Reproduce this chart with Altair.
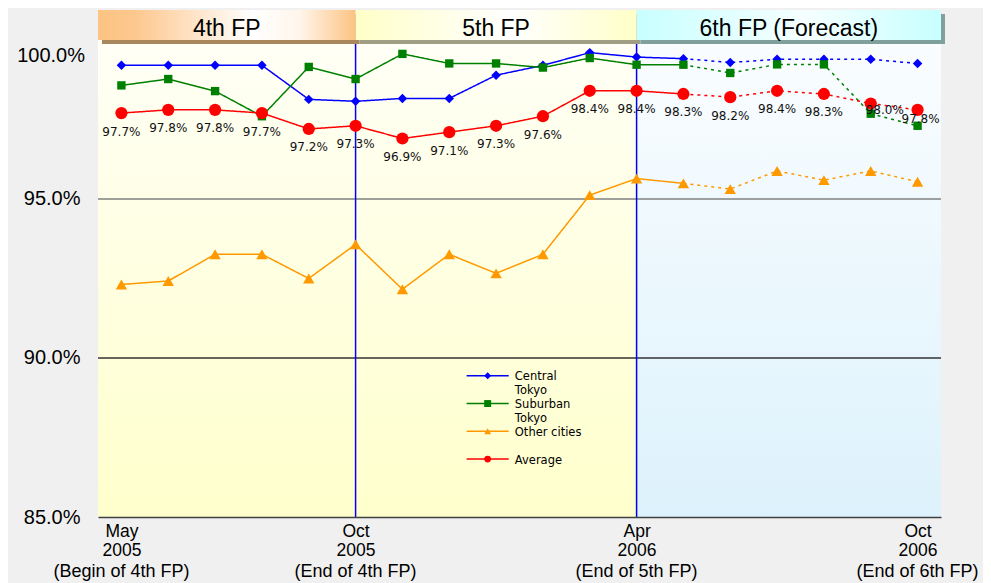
import altair as alt
import pandas as pd

# ---------------- data ----------------
month_labels = ["May 2005", "Jun 2005", "Jul 2005", "Aug 2005", "Sep 2005", "Oct 2005",
                "Nov 2005", "Dec 2005", "Jan 2006", "Feb 2006", "Mar 2006", "Apr 2006",
                "May 2006", "Jun 2006", "Jul 2006", "Aug 2006", "Sep 2006", "Oct 2006"]
series_names = ["Central Tokyo", "Suburban Tokyo", "Other cities", "Average"]
central = [99.20, 99.20, 99.20, 99.20, 98.13, 98.07, 98.16, 98.16, 98.89, 99.20,
           99.60, 99.46, 99.41, 99.29, 99.39, 99.39, 99.39, 99.26]
suburban = [98.57, 98.77, 98.39, 97.60, 99.15, 98.77, 99.56, 99.26, 99.26, 99.13,
            99.43, 99.22, 99.22, 98.96, 99.23, 99.23, 97.68, 97.30]
other = [92.31, 92.42, 93.26, 93.26, 92.50, 93.57, 92.16, 93.26, 92.66, 93.26,
         95.12, 95.64, 95.49, 95.31, 95.88, 95.59, 95.88, 95.54]
average = [97.7, 97.8, 97.8, 97.7, 97.2, 97.3, 96.9, 97.1, 97.3, 97.6,
           98.4, 98.4, 98.3, 98.2, 98.4, 98.3, 98.0, 97.8]
first_forecast_idx = 12  # dotted lines from May 2006 on

legend_line1 = ["Central", "Suburban", "Other cities", "Average"]
legend_line2 = ["Tokyo", "Tokyo", "", ""]

period_names = ["4th FP", "5th FP", "6th FP (Forecast)"]
period_start = [-0.5, 5, 11]
period_end = [5, 11, 17.5]

tick_idx = [0, 5, 11, 17]
tick_month = ["May", "Oct", "Apr", "Oct"]
tick_year = ["2005", "2005", "2006", "2006"]
tick_note = ["(Begin of 4th FP)", "(End of 4th FP)", "(End of 5th FP)", "(End of 6th FP)"]

y_axis_ticks = [85, 90, 95]
y_top_tick = [100]
y_grid = [90, 95]

# ---------------- styles ----------------
series_colors = ["#0000ff", "#008000", "#ff9900", "#ff0000"]
series_shapes = ["diamond", "square", "triangle-up", "circle"]
series_sizes = [90, 70, 130, 150]
legend_sizes = [50, 45, 80, 75]
grid_colors = ["#333333", "#808080"]
shadow_colors = ["#a8885c", "#a09e84", "#80a09e"]
header_grads = [
    [(0, "#fcc382"), (0.15, "#fdc890"), (0.6, "#ffffff"), (0.78, "#fff6ec"), (1, "#fcc382")],
    [(0, "#ffffc8"), (0.55, "#ffffff"), (1, "#ffffc8")],
    [(0, "#c8ffff"), (0.55, "#f6ffff"), (1, "#c8ffff")],
]

W, H = 843, 507
Y_MAX = 100.94
HEADER_BOTTOM = 100.0
HEADER_TEXT_Y = 100.33
# legend placement (in the chart's own x / y units)
LEG_X0, LEG_XM, LEG_X1, LEG_XT = 7.37, 7.82, 8.27, 8.40
LEG_Y0, LEG_STEP = 89.44, 0.873

xs = alt.Scale(domain=[-0.5, 17.5], nice=False, zero=False)
ys = alt.Scale(domain=[85, Y_MAX], nice=False, zero=False)
color_scale = alt.Scale(domain=series_names, range=series_colors)


def grad(stops, horizontal):
    return alt.LinearGradient(
        gradient="linear",
        stops=[alt.GradientStop(color=c, offset=o) for o, c in stops],
        x1=0, y1=0, x2=1 if horizontal else 0, y2=0 if horizontal else 1)


# ---------------- tables ----------------
line_rows, point_rows = [], []
for s, vals in zip(series_names, [central, suburban, other, average]):
    for i, v in enumerate(vals):
        point_rows.append(dict(series=s, idx=i, month=month_labels[i], value=v))
        if i <= first_forecast_idx:
            line_rows.append(dict(series=s, idx=i, value=v, seg="actual"))
        if i >= first_forecast_idx:
            line_rows.append(dict(series=s, idx=i, value=v, seg="forecast"))
lines_df = pd.DataFrame(line_rows)
points_df = pd.DataFrame(point_rows)

periods_df = pd.DataFrame({"period": period_names, "x0": period_start, "x1": period_end,
                           "shadow": shadow_colors})
periods_df["ylo"] = min(y_axis_ticks)
periods_df["yhi"] = y_top_tick[0]
periods_df["htop"] = Y_MAX
periods_df["hbot"] = HEADER_BOTTOM

grid_df = pd.DataFrame({"y": y_grid, "c": grid_colors})
vline_df = pd.DataFrame({"x": period_end[:2]})
vline_df["ylo"] = min(y_axis_ticks)
vline_df["yhi"] = y_top_tick[0]
notes_df = pd.DataFrame({"idx": tick_idx, "note": tick_note})
top_df = pd.DataFrame({"y": y_top_tick})
legend_df = pd.DataFrame({"series": series_names, "row": list(range(len(series_names))),
                          "line1": legend_line1, "line2": legend_line2})

# ---------------- axes ----------------
x_label_expr = "".join(
    f"datum.value == {i} ? ['{m}', '{y}'] : " for i, m, y in zip(tick_idx, tick_month, tick_year)
) + "''"
x_axis = alt.Axis(values=tick_idx, labelExpr=x_label_expr, labelFont="Liberation Sans",
                  labelFontSize=17.5, labelColor="#000000", labelLineHeight=19.5, labelPadding=5,
                  ticks=False, grid=False, domainColor="#404040", domainWidth=1.5,
                  labelFlush=False, labelOverlap=False, title=None, zindex=1)
y_axis = alt.Axis(values=y_axis_ticks, labelExpr="format(datum.value, '.1f') + '%'",
                  labelFont="Liberation Sans", labelFontSize=20, labelColor="#000000",
                  labelPadding=18, ticks=False, domain=False, grid=False, title=None)


def X(field, **kw):
    return alt.X(field, scale=xs, axis=x_axis, **kw)


def Y(field, **kw):
    return alt.Y(field, scale=ys, axis=y_axis, **kw)


# ---------------- layers ----------------
bg_yellow = alt.Chart(periods_df).transform_filter(
    alt.FieldOneOfPredicate(field="period", oneOf=period_names[:2])
).mark_rect(color=grad([(0, "#fffff6"), (1, "#ffffcc")], False)).encode(
    x=X("x0:Q"), x2="x1", y=Y("ylo:Q"), y2="yhi")

bg_blue = alt.Chart(periods_df).transform_filter(
    alt.FieldEqualPredicate(field="period", equal=period_names[2])
).mark_rect(color=grad([(0, "#fafdff"), (1, "#ddf2fc")], False)).encode(
    x=X("x0:Q"), x2="x1", y=Y("ylo:Q"), y2="yhi")

grid = alt.Chart(grid_df).mark_rule(strokeWidth=1.5).encode(
    y=Y("y:Q"), color=alt.Color("c:N", scale=None))

vlines = alt.Chart(vline_df).mark_rule(strokeWidth=1.5, color="#0000ff").encode(
    x=X("x:Q"), y=Y("ylo:Q"), y2="yhi")

lines = alt.Chart(lines_df).mark_line(strokeWidth=1.5).encode(
    x=X("idx:Q"), y=Y("value:Q"),
    color=alt.Color("series:N", scale=color_scale, legend=None),
    strokeDash=alt.StrokeDash("seg:N", scale=alt.Scale(domain=["actual", "forecast"],
                                                       range=[[1, 0], [3, 4]]), legend=None),
    order="idx:Q")

point_layers = []
for s, shp, sz in zip(series_names, series_shapes, series_sizes):
    point_layers.append(alt.Chart(points_df).transform_filter(
        alt.FieldEqualPredicate(field="series", equal=s)
    ).mark_point(filled=True, opacity=1, shape=shp, size=sz).encode(
        x=X("idx:Q"), y=Y("value:Q"),
        color=alt.Color("series:N", scale=color_scale, legend=None)))

# legend drawn inside the plot (line + marker + wrapped label)
leg_base = alt.Chart(legend_df).transform_calculate(
    ly=f"{LEG_Y0} - datum.row * {LEG_STEP}", lx0=str(LEG_X0), lxm=str(LEG_XM),
    lx1=str(LEG_X1), lxt=str(LEG_XT))
leg_rules = leg_base.mark_rule(strokeWidth=1.5).encode(
    x=X("lx0:Q"), x2="lx1", y=Y("ly:Q"),
    color=alt.Color("series:N", scale=color_scale, legend=None))
leg_points = leg_base.mark_point(filled=True, opacity=1).encode(
    x=X("lxm:Q"), y=Y("ly:Q"),
    color=alt.Color("series:N", scale=color_scale, legend=None),
    shape=alt.Shape("series:N", scale=alt.Scale(domain=series_names, range=series_shapes),
                    legend=None),
    size=alt.Size("series:N", scale=alt.Scale(domain=series_names, range=legend_sizes),
                  legend=None))
leg_text1 = leg_base.mark_text(align="left", baseline="middle", font="DejaVu Sans",
                               fontSize=11.5, color="#000000", dy=1.5).encode(
    x=X("lxt:Q"), y=Y("ly:Q"), text="line1:N")
leg_text2 = leg_base.mark_text(align="left", baseline="middle", font="DejaVu Sans",
                               fontSize=11.5, color="#000000", dy=15.5).encode(
    x=X("lxt:Q"), y=Y("ly:Q"), text="line2:N")

avg_base = alt.Chart(points_df).transform_filter(
    alt.FieldEqualPredicate(field="series", equal="Average")
).transform_calculate(label="format(datum.value, '.1f') + '%'")
lab_enc = dict(x=X("idx:Q"), y=Y("value:Q"), text="label:N")
lab_main = avg_base.transform_filter("datum.idx <= 15").mark_text(
    font="DejaVu Sans", fontSize=12, dy=18.5, color="#111111").encode(**lab_enc)
lab_sep = avg_base.transform_filter("datum.idx == 16").mark_text(
    font="DejaVu Sans", fontSize=12, dy=6, dx=14, color="#111111").encode(**lab_enc)
lab_oct = avg_base.transform_filter("datum.idx == 17").mark_text(
    font="DejaVu Sans", fontSize=12, dy=9, dx=3, color="#111111").encode(**lab_enc)

shadows = alt.Chart(periods_df).mark_rect(xOffset=4, x2Offset=4, yOffset=4, y2Offset=4).encode(
    x=X("x0:Q"), x2="x1", y=Y("htop:Q"), y2="hbot",
    color=alt.Color("shadow:N", scale=None))

headers = []
for name, stops in zip(period_names, header_grads):
    headers.append(alt.Chart(periods_df).transform_filter(
        alt.FieldEqualPredicate(field="period", equal=name)
    ).mark_rect(color=grad(stops, True)).encode(
        x=X("x0:Q"), x2="x1", y=Y("htop:Q"), y2="hbot"))

header_text = alt.Chart(periods_df).transform_calculate(
    xc="(datum.x0 + datum.x1) / 2", yt=str(HEADER_TEXT_Y)
).mark_text(font="Liberation Sans", fontSize=23, color="#000000", baseline="middle").encode(
    x=X("xc:Q"), y=Y("yt:Q"), text="period:N")

top_label = alt.Chart(top_df).transform_calculate(
    t="format(datum.y, '.1f') + '%'"
).mark_text(font="Liberation Sans", fontSize=20, color="#000000", align="right",
            baseline="middle", dy=16).encode(
    x=alt.value(-13), y=Y("y:Q"), text="t:N")

notes = alt.Chart(notes_df).mark_text(font="Liberation Sans", fontSize=18, color="#000000",
                                      baseline="middle").encode(
    x=X("idx:Q"), y=alt.value(H + 55), text="note:N")

chart = alt.layer(
    bg_yellow, bg_blue, grid, vlines, lines, *point_layers,
    leg_rules, leg_points, leg_text1, leg_text2,
    lab_main, lab_sep, lab_oct, shadows, *headers, header_text, top_label, notes
).properties(
    width=W, height=H,
    autosize=alt.AutoSizeParams(type="none"),
    padding={"left": 90, "top": 2, "right": 42, "bottom": 66},
    background="#f0f0f0",
).configure_view(strokeWidth=0)

chart.save("out.html", embed_options={"renderer": "svg", "actions": False})
